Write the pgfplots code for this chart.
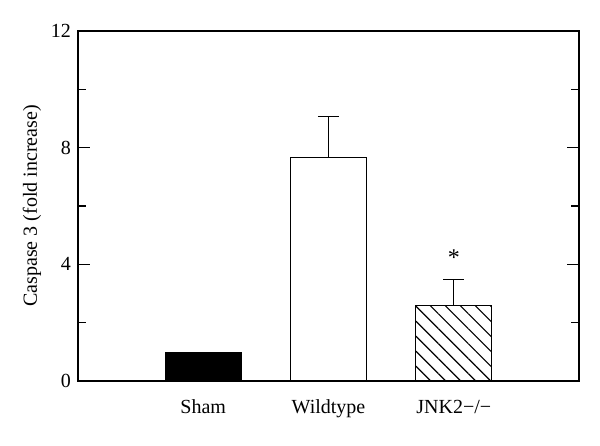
\documentclass[border=0pt]{standalone}
\usepackage{fontspec}
\setmainfont{Liberation Serif}
\usepackage{pgfplots}
\pgfplotsset{compat=1.18}
\usetikzlibrary{patterns.meta}
\begin{document}
\begin{tikzpicture}
\begin{axis}[
  name=ax,
  scale only axis,
  width=250.5pt, height=175pt,
  xmin=-1, xmax=3, ymin=0, ymax=12,
  /pgf/number format/assume math mode=true,
  xtick={0,1,2}, xticklabels={Sham, Wildtype, JNK2−/−},
  x tick style={draw=none},
  ytick={0,4,8,12}, minor ytick={2,6,10},
  ytick pos=both, yticklabel pos=left,
  major tick length=6pt, minor tick length=4pt,
  tick style={line width=0.6pt, black},
  axis line style={line width=0.75pt},
  ylabel={Caspase 3 (fold increase)},
  ylabel style={at={(axis description cs:-0.0918,0.5)}, anchor=center},
  ybar,
  clip=false,
]
\addplot[ybar, bar shift=0pt, bar width=0.608, fill=black, draw=black, line width=0.5pt]
  coordinates {(0,0.97)};
\addplot[ybar, bar shift=0pt, bar width=0.608, fill=white, draw=black, line width=0.6pt,
  error bars/.cd, y dir=plus, y explicit,
  error bar style={line width=0.6pt, black},
  error mark options={rotate=90, mark size=5.3pt, line width=0.6pt, black}]
  coordinates {(1,7.66) +- (0,1.40)};
\addplot[ybar, bar shift=0pt, bar width=0.608, draw=black, line width=0.6pt,
  pattern={Lines[angle=-45, distance=5.3pt, line width=0.6pt]},
  error bars/.cd, y dir=plus, y explicit,
  error bar style={line width=0.6pt, black},
  error mark options={rotate=90, mark size=5.3pt, line width=0.6pt, black}]
  coordinates {(2,2.58) +- (0,0.91)};
\node at (axis cs:2,4.22) {\large *};
\end{axis}
\pgfresetboundingbox
\path ([shift={(-39pt,-32pt)}]ax.south west) rectangle ([shift={(10.5pt,15.5pt)}]ax.north east);
\end{tikzpicture}
\end{document}
